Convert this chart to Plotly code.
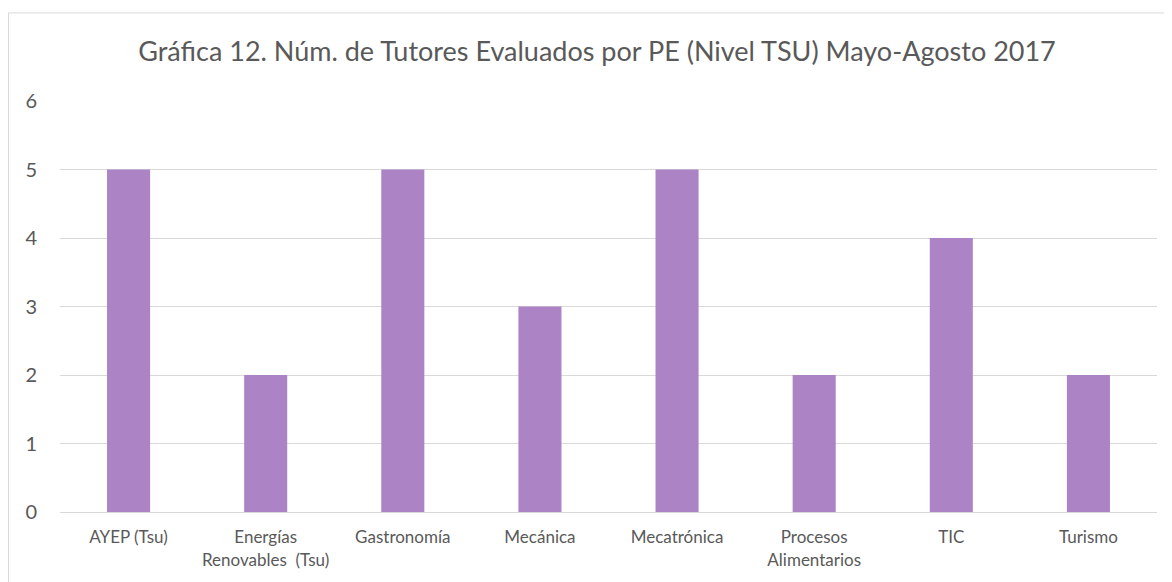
import plotly.graph_objects as go

categories = ["AYEP (Tsu)", "Energías<br>Renovables  (Tsu)", "Gastronomía", "Mecánica",
              "Mecatrónica", "Procesos<br>Alimentarios", "TIC", "Turismo"]
values = [5, 2, 5, 3, 5, 2, 4, 2]
y_ticks = [0, 1, 2, 3, 4, 5, 6]
title_text = "Gráfica 12. Núm. de Tutores Evaluados por PE (Nivel TSU) Mayo-Agosto 2017"

FONT = "Lato, Carlito, Calibri, sans-serif"
TXT = "#595959"

fig = go.Figure(go.Bar(x=categories, y=values, marker=dict(color="#AC84C6", line=dict(width=0))))

OFF = 8  # page body margin
W, H = 1164, 574
L, T = 60 - OFF, 101 - OFF
R = W - (1157 - OFF)
B = H - (514 - OFF)
pw = W - L - R
ph = H - T - B

def px_x(p):
    return (p - OFF - L) / pw

def px_y(p):
    return (H - B - (p - OFF)) / ph

fig.update_layout(
    width=W, height=H,
    margin=dict(l=L, r=R, t=T, b=B),
    paper_bgcolor="white", plot_bgcolor="white",
    bargap=0.686,
    showlegend=False,
    title=dict(text=title_text, x=px_x(597) * pw / W + L / W, xanchor="center",
               y=1 - (52 - OFF) / H, yanchor="middle",
               font=dict(family=FONT, size=27, color=TXT)),
    font=dict(family=FONT, color=TXT),
    xaxis=dict(showgrid=False, showline=True, linecolor="#D9D9D9", linewidth=1,
               ticks="", ticklabelstandoff=10,
               tickfont=dict(size=17, color=TXT, family=FONT), fixedrange=True),
    yaxis=dict(range=[0, 6], tickvals=y_ticks, showgrid=True, gridcolor="#D9D9D9", gridwidth=1,
               zeroline=False, showline=False, ticks="", ticklabelstandoff=22,
               tickfont=dict(size=20, color=TXT, family=FONT)),
    shapes=[dict(type="rect", xref="paper", yref="paper",
                 x0=px_x(8.5), x1=px_x(1170.5), y0=px_y(600), y1=px_y(12.5),
                 line=dict(color="#D9D9D9", width=1), fillcolor="rgba(0,0,0,0)", layer="below")],
)

fig.write_html("out.html")
